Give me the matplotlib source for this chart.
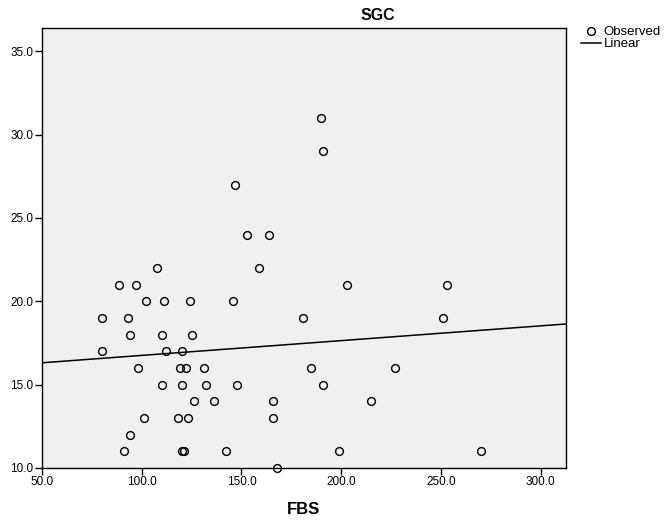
import numpy as np
import matplotlib
matplotlib.use("Agg")
import matplotlib.pyplot as plt
from matplotlib.lines import Line2D

plt.rcParams['font.family'] = ['Liberation Sans', 'DejaVu Sans']

# FBS vs SGC observations
fbs = [107.8, 158.8, 88.8, 97.0, 102.0, 111.0, 124.0, 146.0, 80.0, 93.0,
       181.0, 94.0, 110.0, 125.0, 80.0, 112.0, 120.0, 98.0, 119.0, 122.0,
       131.0, 185.0, 110.0, 120.0, 132.0, 148.0, 191.0, 126.0, 136.0, 166.0,
       101.0, 118.0, 123.0, 166.0, 94.0, 91.0, 120.0, 121.0, 142.0, 168.0,
       203.0, 253.0, 251.0, 227.0, 215.0, 199.0, 270.0, 190.0, 191.0, 147.0,
       153.0, 164.0]
sgc = [22, 22, 21, 21, 20, 20, 20, 20, 19, 19,
       19, 18, 18, 18, 17, 17, 17, 16, 16, 16,
       16, 16, 15, 15, 15, 15, 15, 14, 14, 14,
       13, 13, 13, 13, 12, 11, 11, 11, 11, 10,
       21, 21, 19, 16, 14, 11, 11, 31, 29, 27,
       24, 24]

x_ticks = [50, 100, 150, 200, 250, 300]
y_ticks = [10, 15, 20, 25, 30, 35]

fig = plt.figure(figsize=(6.68, 5.22), dpi=100)
ax = fig.add_axes([42/668, 1 - 468/522, (566 - 42)/668, (468 - 28)/522])
ax.set_facecolor('#f0f0f0')

ax.plot(fbs, sgc, 'o', mfc='none', mec='black', ms=5.6, mew=1.0, clip_on=False, zorder=3)

# linear fit
xmin, xmax = 50, 312.7
b, a = np.polyfit(fbs, sgc, 1)
xs = np.array([xmin, xmax])
ax.plot(xs, a + b * xs, color='black', lw=1.1)

ax.set_xlim(xmin, xmax)
ax.set_ylim(10, 36.4)
ax.set_xticks(x_ticks)
ax.set_yticks(y_ticks)
ax.set_xticklabels(['%.1f' % v for v in x_ticks])
ax.set_yticklabels(['%.1f' % v for v in y_ticks])
ax.tick_params(direction='out', length=5, width=1, labelsize=8.5, pad=1)
for s in ax.spines.values():
    s.set_linewidth(1.0)

fig.text(378/668, 1 - 15/522, 'SGC', ha='center', va='center', fontsize=11.5, fontweight='bold')
fig.text(304/668, 1 - 509/522, 'FBS', ha='center', va='center', fontsize=12, fontweight='bold')

handles = [Line2D([], [], ls='none', marker='o', mfc='none', mec='black', ms=5.6, mew=1.0),
           Line2D([], [], color='black', lw=1.1)]
fig.legend(handles, ['Observed', 'Linear'], loc='upper left', bbox_to_anchor=(581/668, 1 - 26/522),
           frameon=False, fontsize=9.5, handlelength=1.5, handletextpad=0.2, labelspacing=0.0,
           borderaxespad=0, borderpad=0)

fig.savefig('out.png', dpi=100)
